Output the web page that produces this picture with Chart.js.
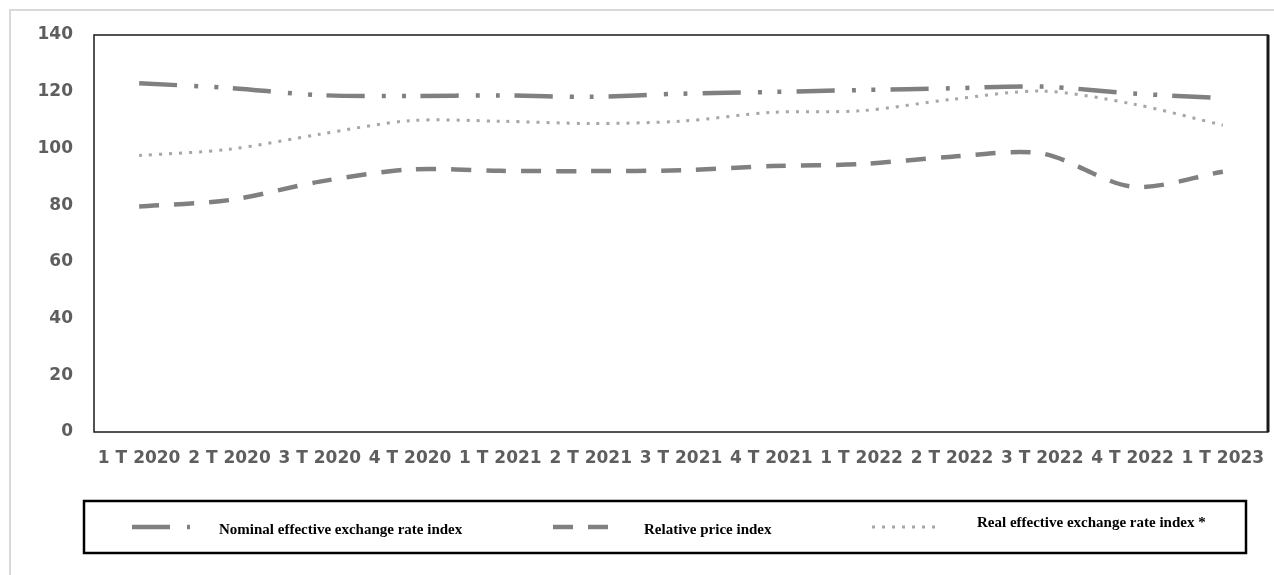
<!DOCTYPE html>
<html>
<head>
<meta charset="utf-8">
<script src="https://cdn.jsdelivr.net/npm/chart.js@4/dist/chart.umd.min.js"></script>
<style>
  html, body { margin: 0; padding: 0; background: #ffffff; }
  #wrap { width: 1274px; height: 575px; position: relative; }
</style>
</head>
<body>
<div id="wrap"><canvas id="c" width="1274" height="575"></canvas></div>
<script>
// Quarter labels (T = trimestre)
const quarters = ['1 T 2020', '2 T 2020', '3 T 2020', '4 T 2020', '1 T 2021', '2 T 2021', '3 T 2021',
                  '4 T 2021', '1 T 2022', '2 T 2022', '3 T 2022', '4 T 2022', '1 T 2023'];

// Index series
const nominalIndex  = [123.0, 121.3, 118.8, 118.5, 118.7, 118.2, 119.3, 119.9, 120.6, 121.2, 121.8, 119.4, 117.7];
const relativePrice = [79.5, 81.8, 88.3, 92.6, 92.1, 92.0, 92.3, 93.8, 94.5, 97.1, 98.2, 86.5, 91.8];
const realIndex     = [97.5, 99.7, 105.0, 109.8, 109.6, 108.8, 109.6, 112.7, 113.3, 117.3, 120.2, 115.7, 108.2];

// Y-axis ticks
const yTicks = [0, 20, 40, 60, 80, 100, 120, 140];

const seriesNames = ['Nominal effective exchange rate index', 'Relative price index', 'Real effective exchange rate index *'];

// Light grey frame around the figure and black box around the plot
const framePlugin = {
  id: 'frames',
  beforeDraw(chart) {
    const ctx = chart.ctx;
    ctx.save();
    ctx.strokeStyle = '#d9d9d9';
    ctx.lineWidth = 2;
    ctx.beginPath();
    ctx.moveTo(10, 575);
    ctx.lineTo(10, 10);
    ctx.lineTo(1274, 10);
    ctx.stroke();
    ctx.restore();
  },
  afterDatasetsDraw(chart) {
    const { ctx, chartArea: a } = chart;
    ctx.save();
    ctx.strokeStyle = '#1a1a1a';
    ctx.lineWidth = 1.5;
    ctx.strokeRect(a.left, a.top, a.right - a.left, a.bottom - a.top);
    ctx.lineWidth = 3;
    ctx.beginPath();
    ctx.moveTo(a.right, a.top);
    ctx.lineTo(a.right, a.bottom);
    ctx.stroke();
    ctx.restore();
  }
};

// Boxed legend below the axis; each key is a short stroke in the series' own style
const legendKeys = [
  { segs: [[132, 170], [187, 190]], tx: 219, ty: 530 },
  { segs: [[553, 573], [588, 608]], tx: 644, ty: 530 },
  { segs: [[872, 937]], tx: 977, ty: 523 }
];

const boxLegend = {
  id: 'boxLegend',
  afterDraw(chart) {
    const ctx = chart.ctx;
    ctx.save();
    ctx.strokeStyle = '#000000';
    ctx.lineWidth = 2.5;
    ctx.strokeRect(84, 501, 1162, 52);
    chart.data.datasets.forEach((ds, i) => {
      const k = legendKeys[i];
      ctx.save();
      ctx.strokeStyle = ds.borderColor;
      ctx.lineWidth = ds.borderWidth;
      ctx.lineCap = 'butt';
      if (i === 2) ctx.setLineDash(ds.borderDash);
      k.segs.forEach(([a, b]) => {
        ctx.beginPath();
        ctx.moveTo(a, 527);
        ctx.lineTo(b, 527);
        ctx.stroke();
      });
      ctx.restore();
      ctx.fillStyle = '#000000';
      ctx.font = 'bold 15px "Liberation Serif", "Times New Roman", serif';
      ctx.textBaseline = 'middle';
      ctx.textAlign = 'left';
      ctx.fillText(ds.label, k.tx, k.ty);
    });
    ctx.restore();
  }
};

const tickFont = { family: '"DejaVu Sans", sans-serif', size: 17, weight: 'bold' };

new Chart(document.getElementById('c'), {
  type: 'line',
  data: {
    labels: quarters,
    datasets: [
      { label: seriesNames[0], data: nominalIndex, borderColor: '#808080', borderWidth: 4.5,
        borderDash: [38, 17, 4, 16, 4, 15], pointRadius: 0, tension: 0.3, fill: false },
      { label: seriesNames[1], data: relativePrice, borderColor: '#808080', borderWidth: 4.5,
        borderDash: [20, 15], pointRadius: 0, tension: 0.3, fill: false },
      { label: seriesNames[2], data: realIndex, borderColor: '#a6a6a6', borderWidth: 3,
        borderDash: [3, 7], pointRadius: 0, tension: 0.3, fill: false }
    ]
  },
  options: {
    responsive: false,
    animation: false,
    devicePixelRatio: 1,
    layout: { padding: { left: 0, top: 35, right: 6, bottom: 0 } },
    plugins: { legend: { display: false }, tooltip: { enabled: false } },
    scales: {
      x: {
        offset: true,
        grid: { display: false, drawTicks: false },
        border: { display: false },
        ticks: { color: '#5e5e5e', padding: 16, maxRotation: 0, autoSkip: false, font: tickFont },
        afterFit(scale) {
          scale.height = 143;
          scale.paddingLeft = 0;
          scale.paddingRight = 0;
        }
      },
      y: {
        min: 0, max: 140,
        grid: { display: false, drawTicks: false },
        border: { display: false },
        afterBuildTicks(scale) { scale.ticks = yTicks.map(v => ({ value: v })); },
        ticks: { color: '#5e5e5e', padding: 21, font: tickFont },
        afterFit(scale) { scale.width = 94; }
      }
    }
  },
  plugins: [framePlugin, boxLegend]
});
</script>
</body>
</html>
